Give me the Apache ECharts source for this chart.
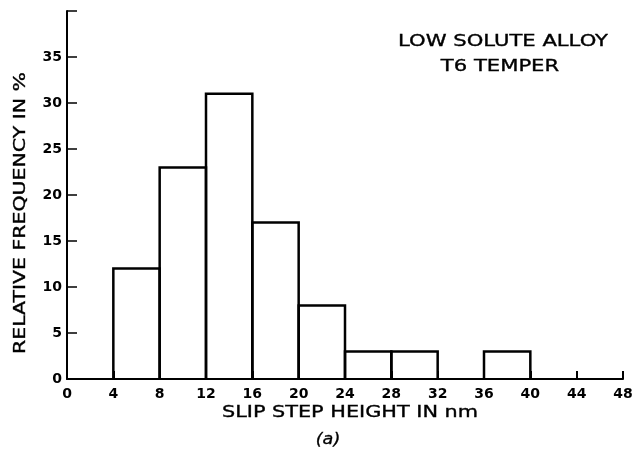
<!DOCTYPE html>
<html><head><meta charset="utf-8">
<script src="https://cdn.jsdelivr.net/npm/echarts@6/dist/echarts.min.js"></script>
<style>html,body{margin:0;padding:0;background:#fff}#c{width:636px;height:449px}</style>
</head><body><div id="c"></div>
<script>
const binStarts = [4, 8, 12, 16, 20, 24, 28, 36];
const binEnds   = [8, 12, 16, 20, 24, 28, 32, 40];
const frequency = [12, 23, 31, 17, 8, 3, 3, 3];
const xTicks = [0, 4, 8, 12, 16, 20, 24, 28, 32, 36, 40, 44, 48];
const yTicks = [0, 5, 10, 15, 20, 25, 30, 35];
const xTitle = 'SLIP STEP HEIGHT IN nm';
const yTitle = 'RELATIVE FREQUENCY IN %';
const noteLines = ['LOW SOLUTE ALLOY', 'T6 TEMPER'];
const caption = '(a)';

const data = binStarts.map((s, i) => [s, binEnds[i], frequency[i]]);
const font = 'DejaVu Sans';
const chart = echarts.init(document.getElementById('c'));
function label(text, x, y, sx, size, extra, styleExtra) {
  return Object.assign({
    type: 'text', x: x, y: y, scaleX: sx, scaleY: 1,
    style: Object.assign({text: text, fontFamily: font, fontSize: size, fill: '#000',
      stroke: '#000', lineWidth: 0.35,
      textAlign: 'center', textVerticalAlign: 'middle'}, styleExtra || {})
  }, extra || {});
}
chart.setOption({
  animation: false,
  backgroundColor: '#fff',
  grid: {left: 67, right: 13, top: 11, bottom: 70, containLabel: false},
  xAxis: {
    type: 'value', min: 0, max: 48, interval: 4,
    axisLine: {lineStyle: {color: '#000', width: 2}},
    axisTick: {inside: true, length: 8, lineStyle: {color: '#000', width: 2}},
    axisLabel: {color: '#000', fontFamily: font, fontSize: 14, fontWeight: 'bold', margin: 8,
      formatter: v => xTicks.includes(v) ? String(v) : ''},
    splitLine: {show: false}
  },
  yAxis: {
    type: 'value', min: 0, max: 40, interval: 5,
    axisLine: {show: true, lineStyle: {color: '#000', width: 2}},
    axisTick: {show: true, inside: true, length: 10, lineStyle: {color: '#000', width: 1.5}},
    axisLabel: {color: '#000', fontFamily: font, fontSize: 14, fontWeight: 'bold', margin: 5,
      formatter: v => yTicks.includes(v) ? String(v) : ''},
    splitLine: {show: false}
  },
  series: [{
    type: 'custom',
    data: data,
    renderItem: function (params, api) {
      const p0 = api.coord([api.value(0), 0]);
      const p1 = api.coord([api.value(1), api.value(2)]);
      return {
        type: 'polyline',
        shape: {points: [[p0[0], p0[1]], [p0[0], p1[1]], [p1[0], p1[1]], [p1[0], p0[1]]]},
        style: {stroke: '#000', lineWidth: 2.5, fill: 'none'}
      };
    }
  }],
  graphic: [
    label(noteLines[0], 503, 42, 1.32, 16),
    label(noteLines[1], 500, 67, 1.32, 16),
    label(xTitle, 350, 413, 1.3, 16),
    label(yTitle, 21, 213, 1.28, 16, {rotation: Math.PI / 2}),
    label(caption, 328, 440, 1.1, 16, {}, {fontStyle: 'italic'})
  ]
});
</script></body></html>
